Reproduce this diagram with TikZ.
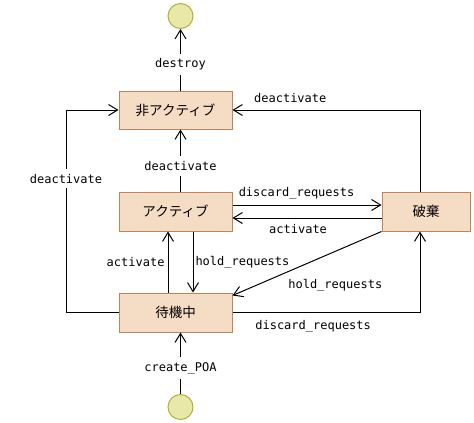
\documentclass[tikz,border=0pt]{standalone}
\usepackage{fontspec}
\setmonofont{DejaVu Sans Mono}
\newfontfamily\jpfont{Noto Sans CJK JP}
\usetikzlibrary{arrows.meta,calc}
\definecolor{boxfill}{RGB}{245,220,197}
\definecolor{boxline}{RGB}{192,132,88}
\definecolor{endfill}{RGB}{232,232,168}
\definecolor{endline}{RGB}{176,176,64}
\tikzset{
  statebox/.style={draw=boxline,fill=boxfill,line width=1pt,rectangle,inner sep=0pt,font=\jpfont\fontsize{13.5}{14}\selectfont},
  endpt/.style={draw=endline,fill=endfill,line width=1pt,circle,inner sep=0pt,minimum size=25pt},
  arr/.style={line width=1pt,-{Straight Barb[length=9pt,width=11pt,line width=1pt]}},
  lbl/.style={font=\ttfamily\fontsize{12}{12}\selectfont,inner sep=2pt},
  gaplbl/.style={lbl,fill=white,inner ysep=5pt}
}
\begin{document}
\begin{tikzpicture}[x=1pt,y=-1pt]
\useasboundingbox (0,0) rectangle (474,423);
\node[endpt] (top) at (180.5,16) {};
\node[endpt] (bot) at (180.5,407) {};
\node[statebox,minimum width=113pt,minimum height=38pt] (inact) at (175.5,110) {非アクティブ};
\node[statebox,minimum width=113pt,minimum height=39pt] (act) at (175.5,211.5) {アクティブ};
\node[statebox,minimum width=88pt,minimum height=39pt] (disc) at (426,211.5) {破棄};
\node[statebox,minimum width=113pt,minimum height=39pt] (wait) at (175.5,312.5) {待機中};
\coordinate (lx) at (66,0);
\coordinate (rx) at (420,0);
% destroy
\draw[arr] (top |- inact.north) -- node[gaplbl,pos=0.42]{destroy} (top.south);
% deactivate act -> inact
\draw[arr] (top |- act.north) -- node[gaplbl,pos=0.41]{deactivate} (top |- inact.south);
% deactivate disc -> inact
\draw[arr] (rx |- disc.north) |- node[lbl,pos=0.846,above,yshift=5pt]{deactivate} (inact.east);
% deactivate wait -> inact (left loop)
\draw[arr] (wait.west) -- (wait.west -| lx) -- node[gaplbl,pos=0.66]{deactivate} (inact.west -| lx) -- (inact.west);
% discard act -> disc
\draw[arr] ([yshift=6.5pt]act.east) -- node[lbl,pos=0.43,above,yshift=3.5pt]{discard\_requests} ([yshift=6.5pt]disc.west);
% activate disc -> act
\draw[arr] ([yshift=-6.5pt]disc.west) -- node[lbl,pos=0.56,below,yshift=-4pt]{activate} ([yshift=-6.5pt]act.east);
% activate wait -> act
\draw[arr] ([xshift=-7.5pt]wait.north) -- node[lbl,left,pos=0.5,xshift=-1pt]{activate} ([xshift=-7.5pt]act.south);
% hold act -> wait
\draw[arr] ([xshift=17.5pt]act.south) -- node[lbl,right,pos=0.45,yshift=-3pt]{hold\_requests} ([xshift=17.5pt]wait.north);
% hold disc -> wait
\draw[arr] (disc.south west) -- node[lbl,pos=0.31,yshift=-34pt]{hold\_requests} ([yshift=-3pt]wait.north east);
% discard wait -> disc
\draw[arr] (wait.east) -| node[lbl,pos=0.215,below,yshift=-5pt]{discard\_requests} (rx |- disc.south);
% create_POA
\draw[arr] (bot.north) -- node[gaplbl,pos=0.42]{create\_POA} (bot |- wait.south);
\end{tikzpicture}
\end{document}
